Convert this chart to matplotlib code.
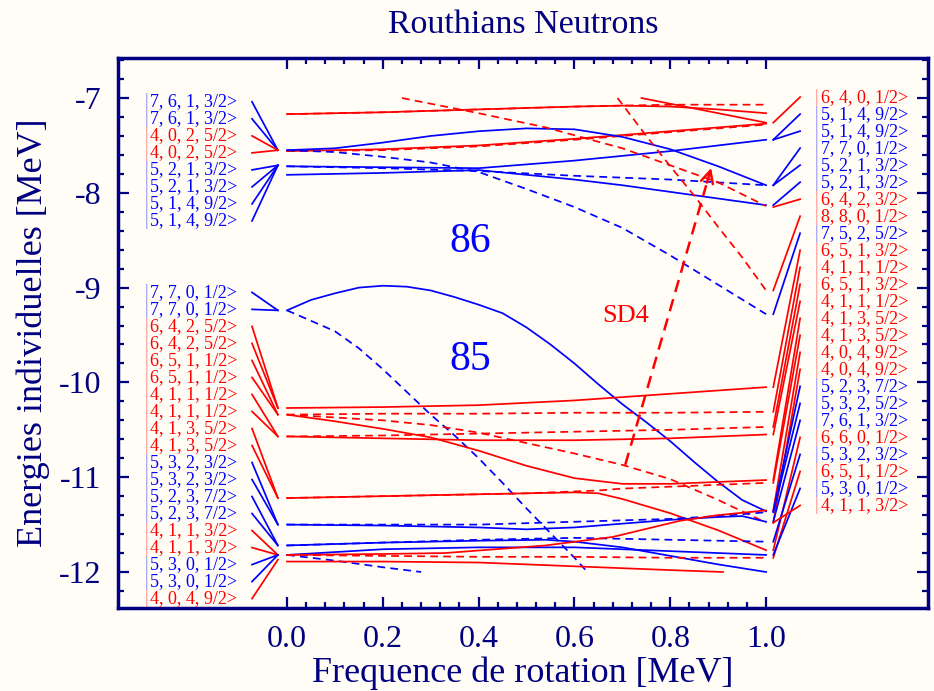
import numpy as np
import matplotlib.pyplot as plt

BLUE = '#0000ff'
RED = '#ff0000'
NAVY = '#000080'
BG = '#fffdf6'

plt.rcParams['font.family'] = ['Liberation Serif', 'DejaVu Serif']
plt.rcParams['axes.unicode_minus'] = False

# ---- Routhian curves (x = rotational frequency [MeV], y = energy [MeV]) ----
# upper group
a_x = [0, 0.2, 0.4, 0.6, 0.7, 0.8, 0.9, 1.0]
a_y = [-7.17, -7.15, -7.12, -7.09, -7.08, -7.09, -7.12, -7.16]
a2_y = [-7.17, -7.15, -7.12, -7.09, -7.08, -7.07, -7.07, -7.07]
c_x = [0.74, 0.8, 0.9, 1.0]
c_y = [-7.0, -7.06, -7.16, -7.26]
b_x = [0, 0.2, 0.4, 0.6, 0.8, 1.0]
b_y = [-7.56, -7.54, -7.50, -7.43, -7.35, -7.27]
b2_y = [-7.56, -7.55, -7.51, -7.44, -7.36, -7.28]
d_x = [0, 0.1, 0.2, 0.3, 0.4, 0.5, 0.6, 0.7, 0.8, 0.9, 1.0]
d_y = [-7.55, -7.53, -7.47, -7.40, -7.35, -7.32, -7.33, -7.41, -7.54, -7.72, -7.92]
d2_y = [-7.55, -7.57, -7.62, -7.68, -7.78, -7.96, -8.15, -8.37, -8.66, -8.97, -9.28]
e_x = [0, 0.2, 0.4, 0.6, 0.7, 0.8, 0.9, 1.0]
e_y = [-7.72, -7.73, -7.74, -7.66, -7.61, -7.56, -7.50, -7.44]
f_y = [-7.81, -7.79, -7.76, -7.86, -7.92, -7.99, -8.06, -8.13]
e2_x = [0, 0.2, 0.4, 0.6, 0.8, 1.0]
e2_y = [-7.72, -7.74, -7.77, -7.82, -7.86, -7.92]
g_x = [0.24, 0.4, 0.54, 0.7, 0.8, 0.9, 1.0]
g_y = [-7.0, -7.16, -7.31, -7.53, -7.71, -7.89, -8.14]
h_x = [0.69, 0.75, 0.8, 0.85, 0.9, 0.95, 1.0]
h_y = [-7.0, -7.40, -7.72, -8.03, -8.36, -8.68, -9.03]

# 85 / lower group
i_x = [0, 0.05, 0.1, 0.15, 0.2, 0.25, 0.3, 0.35, 0.4, 0.45, 0.5, 0.55, 0.6,
       0.65, 0.7, 0.75, 0.8, 0.85, 0.9, 0.95, 1.0]
i_y = [-9.24, -9.13, -9.06, -9.00, -8.98, -8.99, -9.03, -9.10, -9.18, -9.27,
       -9.42, -9.60, -9.80, -10.02, -10.23, -10.42, -10.62, -10.84, -11.05,
       -11.24, -11.36]
i2_x = [0, 0.05, 0.1, 0.15, 0.2, 0.25, 0.3, 0.35, 0.4, 0.45, 0.5, 0.55, 0.6, 0.627]
i2_y = [-9.24, -9.35, -9.46, -9.64, -9.86, -10.10, -10.34, -10.56, -10.80,
        -11.06, -11.33, -11.59, -11.85, -12.0]
m_x = [0, 0.2, 0.4, 0.6, 0.8, 1.0]
k_y = [-10.27, -10.26, -10.24, -10.19, -10.12, -10.05]
p_y = [-10.34, -10.33, -10.33, -10.32, -10.32, -10.31]
q_y = [-10.57, -10.56, -10.54, -10.52, -10.50, -10.47]
n_y = [-10.57, -10.59, -10.61, -10.61, -10.59, -10.55]
l_x = [0, 0.1, 0.2, 0.3, 0.4, 0.5, 0.6, 0.7, 0.8, 0.9, 1.0]
l_y = [-10.34, -10.41, -10.49, -10.58, -10.72, -10.88, -11.01, -11.07, -11.07, -11.05, -11.03]
l2_y = [-10.34, -10.37, -10.40, -10.45, -10.53, -10.64, -10.75, -10.87, -11.02, -11.24, -11.48]
mm_x = [0, 0.2, 0.4, 0.5, 0.6, 0.65, 0.7, 0.8, 0.9, 1.0]
mm_y = [-11.22, -11.20, -11.18, -11.17, -11.16, -11.17, -11.23, -11.38, -11.56, -11.77]
mm2_y = [-11.22, -11.20, -11.18, -11.17, -11.15, -11.14, -11.12, -11.10, -11.08, -11.06]
r_x = [0, 0.2, 0.4, 0.5, 0.6, 0.7, 0.8, 0.9, 0.95, 1.0]
r_y = [-11.50, -11.51, -11.53, -11.55, -11.53, -11.49, -11.45, -11.42, -11.41, -11.47]
j2_x = [0, 0.2, 0.4, 0.6, 0.8, 0.9, 1.0]
j2_y = [-11.50, -11.50, -11.50, -11.47, -11.44, -11.41, -11.37]
s1_x = [0, 0.2, 0.4, 0.54, 0.6, 0.7, 0.8, 0.9, 1.0]
s1_y = [-11.72, -11.69, -11.67, -11.66, -11.68, -11.74, -11.83, -11.92, -12.0]
s2_y = [-11.82, -11.76, -11.74, -11.74, -11.78, -11.82]
t_y = [-11.72, -11.69, -11.66, -11.64, -11.66, -11.68]
u_x = [0, 0.1, 0.2, 0.28]
u_y = [-11.82, -11.88, -11.95, -12.0]
v_x = [0, 0.2, 0.33, 0.54, 0.68, 0.82, 0.9, 1.0]
v_y = [-11.82, -11.81, -11.80, -11.72, -11.63, -11.46, -11.40, -11.35]
v2_y = [-11.82, -11.83, -11.84, -11.84, -11.85, -11.85]
w_x = [0, 0.2, 0.4, 0.6, 0.8, 0.91]
w_y = [-11.89, -11.89, -11.90, -11.94, -11.98, -12.0]

curves = [
    (a_x, a_y, RED, '-'), (a_x, a2_y, RED, '--'), (c_x, c_y, RED, '-'),
    (b_x, b_y, RED, '-'), (b_x, b2_y, RED, '--'),
    (d_x, d_y, BLUE, '-'), (d_x, d2_y, BLUE, '--'),
    (e_x, e_y, BLUE, '-'), (e_x, f_y, BLUE, '-'), (e2_x, e2_y, BLUE, '--'),
    (g_x, g_y, RED, '--'), (h_x, h_y, RED, '--'),
    (i_x, i_y, BLUE, '-'), (i2_x, i2_y, BLUE, '--'),
    (m_x, k_y, RED, '-'), (m_x, p_y, RED, '--'), (m_x, q_y, RED, '--'), (m_x, n_y, RED, '-'),
    (l_x, l_y, RED, '-'), (l_x, l2_y, RED, '--'),
    (mm_x, mm_y, RED, '-'), (mm_x, mm2_y, RED, '--'),
    (r_x, r_y, BLUE, '-'), (j2_x, j2_y, BLUE, '--'),
    (s1_x, s1_y, BLUE, '-'), (m_x, s2_y, BLUE, '-'), (m_x, t_y, BLUE, '--'),
    (u_x, u_y, BLUE, '--'), (v_x, v_y, RED, '-'), (m_x, v2_y, RED, '--'),
    (w_x, w_y, RED, '-'),
]

# ---- state labels ----
left_top_labels = ['7, 6, 1, 3/2>', '7, 6, 1, 3/2>', '4, 0, 2, 5/2>', '4, 0, 2, 5/2>',
                   '5, 2, 1, 3/2>', '5, 2, 1, 3/2>', '5, 1, 4, 9/2>', '5, 1, 4, 9/2>']
left_top_colors = [BLUE, BLUE, RED, RED, BLUE, BLUE, BLUE, BLUE]
left_top_targets = [-7.55, -7.55, -7.55, -7.55, -7.71, -7.71, -7.71, -7.71]

left_low_labels = ['7, 7, 0, 1/2>', '7, 7, 0, 1/2>', '6, 4, 2, 5/2>', '6, 4, 2, 5/2>',
                   '6, 5, 1, 1/2>', '6, 5, 1, 1/2>', '4, 1, 1, 1/2>', '4, 1, 1, 1/2>',
                   '4, 1, 3, 5/2>', '4, 1, 3, 5/2>', '5, 3, 2, 3/2>', '5, 3, 2, 3/2>',
                   '5, 2, 3, 7/2>', '5, 2, 3, 7/2>', '4, 1, 1, 3/2>', '4, 1, 1, 3/2>',
                   '5, 3, 0, 1/2>', '5, 3, 0, 1/2>', '4, 0, 4, 9/2>']
left_low_colors = [BLUE, BLUE, RED, RED, RED, RED, RED, RED, RED, RED,
                   BLUE, BLUE, BLUE, BLUE, RED, RED, BLUE, BLUE, RED]
left_low_targets = [-9.24, -9.24, -10.27, -10.27, -10.34, -10.34, -10.57, -10.57,
                    -11.22, -11.22, -11.50, -11.50, -11.72, -11.72, -11.82, -11.82,
                    -11.82, -11.82, -11.87]

right_labels = ['6, 4, 0, 1/2>', '5, 1, 4, 9/2>', '5, 1, 4, 9/2>', '7, 7, 0, 1/2>',
                '5, 2, 1, 3/2>', '5, 2, 1, 3/2>', '6, 4, 2, 3/2>', '8, 8, 0, 1/2>',
                '7, 5, 2, 5/2>', '6, 5, 1, 3/2>', '4, 1, 1, 1/2>', '6, 5, 1, 3/2>',
                '4, 1, 1, 1/2>', '4, 1, 3, 5/2>', '4, 1, 3, 5/2>', '4, 0, 4, 9/2>',
                '4, 0, 4, 9/2>', '5, 2, 3, 7/2>', '5, 3, 2, 5/2>', '7, 6, 1, 3/2>',
                '6, 6, 0, 1/2>', '5, 3, 2, 3/2>', '6, 5, 1, 1/2>', '5, 3, 0, 1/2>',
                '4, 1, 1, 3/2>']
right_colors = [RED, BLUE, BLUE, BLUE, BLUE, BLUE, RED, RED, BLUE, RED, RED, RED,
                RED, RED, RED, RED, RED, BLUE, BLUE, BLUE, RED, BLUE, RED, BLUE, RED]
right_sources = [-7.26, -7.44, -7.44, -7.92, -7.92, -8.13, -8.15, -9.03, -9.28,
                 -10.05, -10.31, -10.47, -10.55, -11.03, -11.06, -11.35, -11.48,
                 -11.36, -11.37, -11.47, -11.77, -11.68, -11.85, -11.82, -11.48]

LABEL_STEP = 0.1795

fig = plt.figure(figsize=(9.34, 6.91), dpi=100, facecolor=BG)
ax = fig.add_axes([0.1263, 0.1201, 0.8673, 0.7959], facecolor=BG)

for xs, ys, col, ls in curves:
    line, = ax.plot(xs, ys, color=col, lw=1.25, ls=ls)
    if ls == '--':
        line.set_dashes((4.5, 3))


def draw_labels(labels, colors, ends, y0, side):
    for k, (lab, col, e) in enumerate(zip(labels, colors, ends)):
        yl = y0 - k * LABEL_STEP
        if side == 'left':
            ax.plot([-0.073, -0.019], [yl, e], color=col, lw=1.25)
            xb = -0.298
        else:
            ax.plot([1.015, 1.071], [e, yl], color=col, lw=1.25)
            xb = 1.102
        ax.text(xb, yl, '|', color=col, alpha=0.5, fontsize=13, va='center', ha='left')
        ax.text(xb + 0.012, yl, lab, color=col, fontsize=13, va='center', ha='left')


draw_labels(left_top_labels, left_top_colors, left_top_targets, -7.04, 'left')
draw_labels(left_low_labels, left_low_colors, left_low_targets, -9.05, 'left')
draw_labels(right_labels, right_colors, right_sources, -6.99, 'right')

# SD4 band arrow
sd4_x = [0.706, 0.875]
sd4_y = [-10.87, -7.92]
ax.plot(sd4_x, sd4_y, color=RED, lw=1.8, ls=(0, (5, 3)))
ax.annotate('', xy=(0.887, -7.71), xytext=(0.875, -7.92),
            arrowprops=dict(arrowstyle='->', color=RED, lw=1.8, mutation_scale=22))
ax.text(0.706, -9.30, 'SD4', color=RED, fontsize=19, ha='center', va='center')
ax.text(0.382, -8.52, '86', color=BLUE, fontsize=30, ha='center', va='center')
ax.text(0.382, -9.76, '85', color=BLUE, fontsize=30, ha='center', va='center')

ax.set_xlim(-0.3528, 1.338)
ax.set_ylim(-12.38, -6.578)
ax.set_xticks(np.arange(0, 1.01, 0.2))
ax.set_xticklabels(['0.0', '0.2', '0.4', '0.6', '0.8', '1.0'])
ax.set_xticks(np.arange(0, 1.001, 0.04), minor=True)
ax.set_yticks([-7, -8, -9, -10, -11, -12])
ax.set_yticks(np.arange(-12.2, -6.59, 0.2), minor=True)

for sp in ax.spines.values():
    sp.set_color(NAVY)
    sp.set_linewidth(2.5)
ax.tick_params(which='both', direction='in', color=NAVY, top=True, right=True,
               labelcolor=NAVY, labelsize=23, width=1.6)
ax.tick_params(which='major', length=8, pad=12)
ax.tick_params(which='minor', length=4.5)

ax.set_title('Routhians Neutrons', color=NAVY, fontsize=24.5, pad=18)
ax.set_xlabel('Frequence de rotation [MeV]', color=NAVY, fontsize=26, labelpad=2)
ax.set_ylabel('Energies individuelles [MeV]', color=NAVY, fontsize=26, labelpad=6)

fig.savefig('out.png', dpi=100, facecolor=BG)
